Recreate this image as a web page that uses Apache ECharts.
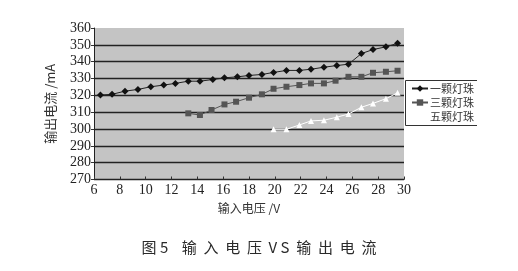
<!DOCTYPE html>
<html>
<head>
<meta charset="utf-8">
<script src="https://cdn.jsdelivr.net/npm/echarts@6/dist/echarts.min.js"></script>
<style>html,body{margin:0;padding:0;background:#fff;}#c{width:518px;height:271px;}</style>
</head>
<body>
<div id="c"></div>
<script>
// Data
var seriesNames = ['一颗灯珠', '三颗灯珠', '五颗灯珠'];
var xTicks = [6, 8, 10, 12, 14, 16, 18, 20, 22, 24, 26, 28, 30];
var yTicks = [270, 280, 290, 300, 310, 320, 330, 340, 350, 360];

var v1 = [6.5, 7.4, 8.4, 9.4, 10.4, 11.4, 12.3, 13.3, 14.2, 15.2, 16.1, 17.1, 18.0, 19.0, 19.9, 20.9, 21.9, 22.8, 23.8, 24.8, 25.7, 26.7, 27.6, 28.6, 29.5];
var i1 = [320.2, 320.6, 322.5, 323.5, 325.1, 326.1, 327.1, 328.4, 328.4, 329.4, 330.4, 331.0, 331.8, 332.4, 333.6, 334.8, 334.8, 335.5, 336.7, 337.7, 338.5, 344.8, 347.2, 348.8, 350.9];

var v3 = [13.3, 14.2, 15.1, 16.1, 17.0, 18.0, 19.0, 19.9, 20.9, 21.9, 22.8, 23.8, 24.7, 25.7, 26.7, 27.6, 28.6, 29.5];
var i3 = [309.3, 308.3, 311.3, 314.6, 316.2, 318.6, 320.6, 323.9, 325.1, 326.1, 327.1, 327.1, 328.7, 331.0, 331.0, 333.4, 334.0, 334.6];

var v5 = [19.9, 20.9, 21.9, 22.8, 23.8, 24.8, 25.7, 26.7, 27.6, 28.6, 29.5];
var i5 = [299.8, 299.8, 302.4, 304.8, 305.2, 307.0, 308.9, 312.9, 315.2, 318.0, 321.5];

function pairs(xs, ys) { return xs.map(function (x, k) { return [x, ys[k]]; }); }

var serif = 'Liberation Serif';
var cjk = 'Noto Sans CJK SC';

var chart = echarts.init(document.getElementById('c'), null, { renderer: 'canvas' });
chart.setOption({
  animation: false,
  backgroundColor: '#ffffff',
  title: {
    text: '图 5    输  入  电  压  V S  输  出  电  流',
    left: 'center',
    top: 240,
    padding: 0,
    textStyle: { fontFamily: cjk, fontSize: 15, fontWeight: 'normal', color: '#2a2a2a' }
  },
  legend: {
    orient: 'vertical',
    left: 411,
    top: 83,
    padding: 0,
    itemGap: 3,
    itemWidth: 16,
    itemHeight: 8,
    data: seriesNames,
    textStyle: { fontFamily: cjk, fontSize: 11, color: '#333', padding: [0, 0, 0, -3] }
  },
  grid: { left: 94, right: 114, top: 28, bottom: 91.5, show: true, backgroundColor: '#c4c4c4', borderWidth: 0 },
  xAxis: {
    type: 'value',
    min: 6, max: 30, interval: 2,
    name: '输入电压 /V',
    nameLocation: 'middle',
    nameGap: 23,
    nameTextStyle: { fontFamily: cjk, fontSize: 12, color: '#333' },
    axisLine: { show: true, lineStyle: { color: '#222', width: 1 } },
    axisTick: { show: true, length: 3, inside: true, lineStyle: { color: '#333' } },
    axisLabel: { margin: 4, fontFamily: serif, fontSize: 14, color: '#222', formatter: function (v) { return xTicks.indexOf(v) >= 0 ? String(v) : ''; } },
    splitLine: { show: false }
  },
  yAxis: {
    type: 'value',
    min: 270, max: 360, interval: 10,
    name: '输出电流 /mA',
    nameLocation: 'middle',
    nameGap: 37,
    nameRotate: 90,
    nameTextStyle: { fontFamily: cjk, fontSize: 13, color: '#333' },
    axisLine: { show: true, lineStyle: { color: '#222', width: 1 } },
    axisTick: { show: true, length: 3, lineStyle: { color: '#333' } },
    axisLabel: { margin: 3, fontFamily: serif, fontSize: 14, color: '#222', formatter: function (v) { return yTicks.indexOf(v) >= 0 ? String(v) : ''; } },
    splitLine: { show: true, lineStyle: { color: ['#222', '#222', '#222', '#222', '#222', '#222', '#222', '#222', '#222', 'transparent'], width: 1.3 } }
  },
  graphic: [
    { type: 'polyline', shape: { points: [[477, 80.5], [405.5, 80.5], [405.5, 125.5], [477, 125.5]] }, style: { stroke: '#333', lineWidth: 1, fill: null }, z: 10 }
  ],
  series: [
    {
      name: seriesNames[0], type: 'line', data: pairs(v1, i1),
      symbol: 'diamond', symbolSize: 7,
      itemStyle: { color: '#111' },
      lineStyle: { color: '#222', width: 1 }
    },
    {
      name: seriesNames[1], type: 'line', data: pairs(v3, i3),
      symbol: 'rect', symbolSize: 6,
      itemStyle: { color: '#555' },
      lineStyle: { color: '#555', width: 1 }
    },
    {
      name: seriesNames[2], type: 'line', data: pairs(v5, i5),
      symbol: 'triangle', symbolSize: 6,
      itemStyle: { color: '#ffffff' },
      lineStyle: { color: '#ffffff', width: 1 }
    }
  ]
});
</script>
</body>
</html>
